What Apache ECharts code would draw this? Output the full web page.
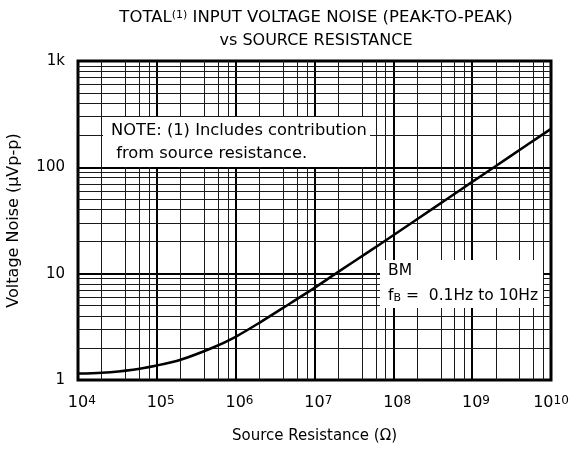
<!DOCTYPE html>
<html>
<head>
<meta charset="utf-8">
<script src="https://cdn.jsdelivr.net/npm/echarts@6/dist/echarts.min.js"></script>
<style>html,body{margin:0;padding:0;background:#fff;}#c{width:573px;height:449px;}</style>
</head>
<body>
<div id="c"></div>
<script>
// Data
const resistance = [1e4, 2e4, 5e4, 1e5, 2e5, 5e5, 1e6, 2e6, 5e6, 1e7, 2e7, 5e7, 1e8, 2e8, 5e8, 1e9, 2e9, 5e9, 1e10];
const noise = [1.15, 1.17, 1.25, 1.37, 1.55, 2.0, 2.55, 3.45, 5.3, 7.35, 10.4, 16.3, 23, 32.5, 51.5, 73, 103, 163, 230];
const xMinorGrid = [2e4,4e4,6e4,8e4, 2e5,4e5,6e5,8e5, 2e6,4e6,6e6,8e6, 2e7,4e7,6e7,8e7, 2e8,4e8,6e8,8e8, 2e9,4e9,6e9,8e9];
const yMinorGrid = [2,3,4,5,6,7,8,9, 20,30,40,50,60,70,80,90, 200,300,400,500,600,700,800,900];
const yTickLabels = {1: '1', 10: '10', 100: '100', 1000: '1k'};
const titleLine1 = 'TOTAL{s|(1)} INPUT VOLTAGE NOISE (PEAK-TO-PEAK)';
const titleLine2 = 'vs SOURCE RESISTANCE';
const noteLine1 = 'NOTE: (1) Includes contribution';
const noteLine2 = ' from source resistance.';
const bmLine1 = 'BM';
const bmLine2 = 'f{b|B} =  0.1Hz to 10Hz';

const FONT = '"DejaVu Sans", "Liberation Sans", Arial, sans-serif';
const chart = echarts.init(document.getElementById('c'), null, {renderer: 'canvas'});

const minorLineStyle = {color: '#1a1a1a', width: 1, type: 'solid'};

chart.setOption({
  animation: false,
  backgroundColor: '#fff',
  textStyle: {fontFamily: FONT},
  grid: {left: 78, right: 22, top: 61, bottom: 69, show: true, borderColor: '#000', borderWidth: 3,
    backgroundColor: 'transparent', containLabel: false, outerBoundsMode: 'none'},
  xAxis: {
    type: 'log', logBase: 10, min: 1e4, max: 1e10,
    axisLine: {show: false}, axisTick: {show: false},
    splitLine: {show: true, lineStyle: {color: '#000', width: 2}},
    axisLabel: {
      margin: 15, color: '#000', fontSize: 16, fontFamily: FONT,
      formatter: v => { const e = Math.round(Math.log10(v)); return e < 10 ? '{p|' + e + '}10{s|' + e + '}' : '10{s|' + e + '}'; },
      rich: {
        s: {fontSize: 12, verticalAlign: 'top', fontFamily: FONT, color: '#000'},
        p: {fontSize: 12, verticalAlign: 'top', fontFamily: FONT, color: 'rgba(0,0,0,0)'}
      }
    },
    name: 'Source Resistance (Ω)', nameLocation: 'middle', nameGap: 49,
    nameTextStyle: {color: '#000', fontSize: 15, fontFamily: FONT}
  },
  yAxis: {
    type: 'log', logBase: 10, min: 1, max: 1000,
    axisLine: {show: false}, axisTick: {show: false},
    splitLine: {show: true, lineStyle: {color: '#000', width: 2}},
    axisLabel: {
      margin: 13, color: '#000', fontSize: 15, fontFamily: FONT,
      formatter: v => yTickLabels[Math.round(v)] || ''
    },
    name: 'Voltage Noise (µVp-p)', nameLocation: 'middle', nameGap: 56, nameRotate: 90,
    nameTextStyle: {color: '#000', fontSize: 16, fontFamily: FONT}
  },
  series: [
    {
      type: 'line', data: [], z: 1, silent: true,
      markLine: {
        silent: true, symbol: ['none', 'none'], label: {show: false}, animation: false,
        lineStyle: minorLineStyle,
        data: xMinorGrid.map(v => ({xAxis: v})).concat(yMinorGrid.map(v => ({yAxis: v})))
      }
    },
    {
      type: 'line', z: 5, smooth: 0.3, showSymbol: false, symbol: 'none',
      lineStyle: {color: '#000', width: 2.5},
      data: resistance.map((r, i) => [r, noise[i]])
    }
  ],
  graphic: [
    {type: 'text', z: 100, x: 316, y: 18, style: {text: titleLine1, fontSize: 16.5, fontFamily: FONT, fill: '#000', align: 'center', verticalAlign: 'middle',
      rich: {s: {fontSize: 11, verticalAlign: 'top', fontFamily: FONT, fill: '#000'}}}},
    {type: 'text', z: 100, x: 316, y: 41, style: {text: titleLine2, fontSize: 16, fontFamily: FONT, fill: '#000', align: 'center', verticalAlign: 'middle'}},
    {type: 'rect', z: 90, shape: {x: 103, y: 117, width: 267, height: 50}, style: {fill: '#fff'}},
    {type: 'text', z: 100, x: 111, y: 131, style: {text: noteLine1, fontSize: 16.3, fontFamily: FONT, fill: '#000', align: 'left', verticalAlign: 'middle'}},
    {type: 'text', z: 100, x: 111, y: 154, style: {text: noteLine2, fontSize: 16.3, fontFamily: FONT, fill: '#000', align: 'left', verticalAlign: 'middle'}},
    {type: 'rect', z: 90, shape: {x: 380, y: 260, width: 163, height: 48}, style: {fill: '#fff'}},
    {type: 'text', z: 100, x: 388, y: 271, style: {text: bmLine1, fontSize: 15.5, fontFamily: FONT, fill: '#000', align: 'left', verticalAlign: 'middle'}},
    {type: 'text', z: 100, x: 388, y: 296, style: {text: bmLine2, fontSize: 15.5, fontFamily: FONT, fill: '#000', align: 'left', verticalAlign: 'middle',
      rich: {b: {fontSize: 11, verticalAlign: 'bottom', fontFamily: FONT, fill: '#000'}}}}
  ]
});
</script>
</body>
</html>
